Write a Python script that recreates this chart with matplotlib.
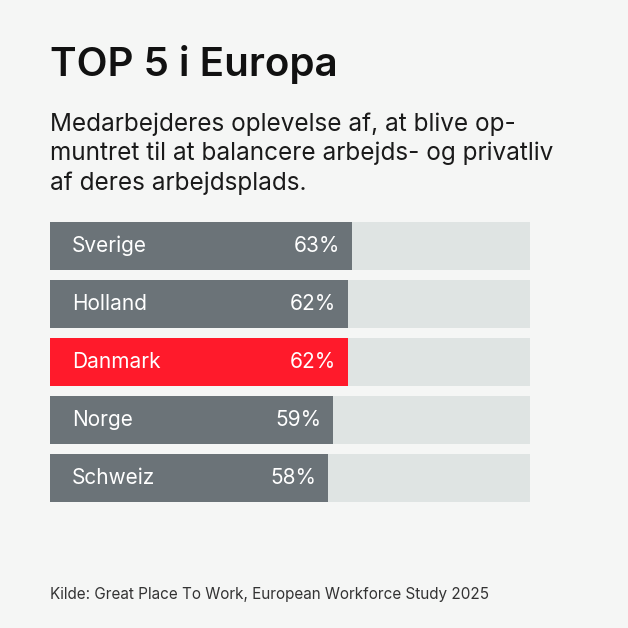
import matplotlib.pyplot as plt

# Data
countries = ['Sverige', 'Holland', 'Danmark', 'Norge', 'Schweiz']
values = [63, 62, 62, 59, 58]
highlight = 'Danmark'

bg = '#f5f6f5'
track = '#dfe4e3'
gray = '#6b7378'
red = '#ff1a2b'

W = H = 628
fig = plt.figure(figsize=(6.28, 6.28), dpi=100, facecolor=bg)
plt.rcParams['font.family'] = ['Inter', 'DejaVu Sans']

# axes placed in pixel coords: bars from x=50 to 530, y=222 to 502
ax = fig.add_axes([50 / W, (H - 502) / H, 480 / W, 280 / H])
ax.set_facecolor(bg)
h = 48 / 58
ypos = list(range(len(countries)))
ax.barh(ypos, [100] * len(values), height=h, color=track, left=0)
colors = [red if c == highlight else gray for c in countries]
ax.barh(ypos, values, height=h, color=colors)
for y, c, v in zip(ypos, countries, values):
    ax.text(4.6, y, c, color='white', fontsize=15, va='center', ha='left')
    ax.text(v - 2.5, y, f'{v}%', color='white', fontsize=15, va='center', ha='right')
ax.set_xlim(0, 100)
ax.set_ylim(len(countries) - 1 + h / 2, -h / 2)
ax.axis('off')

fig.text(50 / W, 1 - 64 / H, 'TOP 5 i Europa', fontsize=29, fontweight='semibold',
         color='#111111', va='center', ha='left')
fig.text(50 / W, 1 - 112 / H,
         'Medarbejderes oplevelse af, at blive op-\n'
         'muntret til at balancere arbejds- og privatliv\n'
         'af deres arbejdsplads.',
         fontsize=17.5, color='#1a1a1a', va='top', ha='left', linespacing=1.34,
         transform=fig.transFigure)
fig.text(50 / W, 1 - 595 / H, 'Kilde: Great Place To Work, European Workforce Study 2025',
         fontsize=11, color='#333333', va='center', ha='left')

fig.savefig('out.png', dpi=100, facecolor=bg)
